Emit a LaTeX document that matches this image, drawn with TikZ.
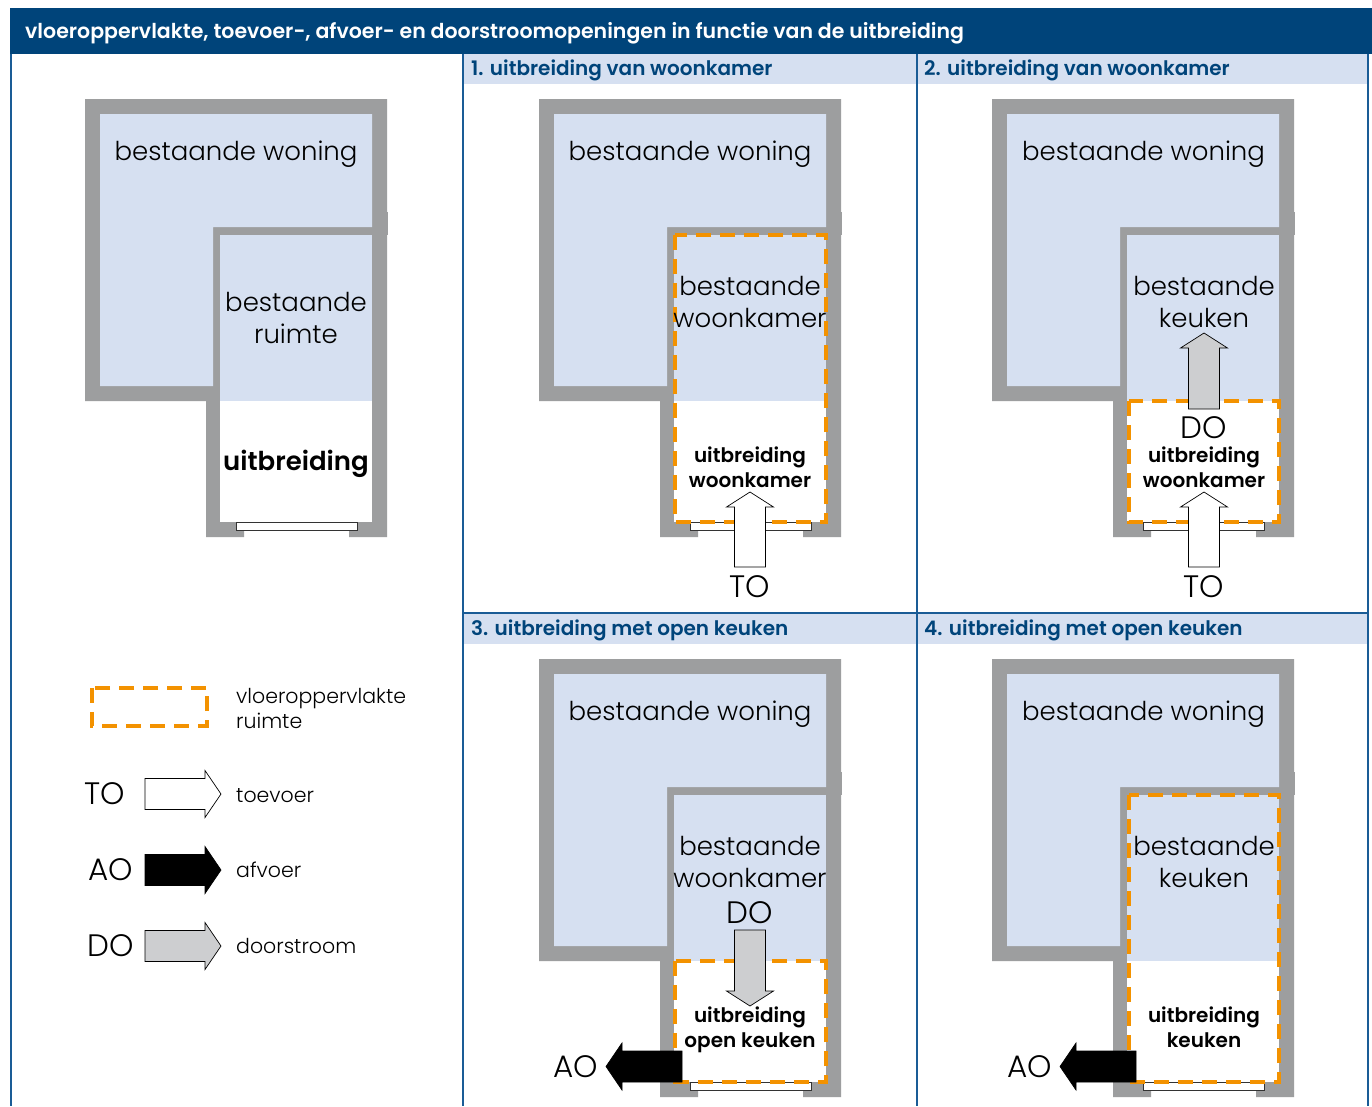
\documentclass[tikz,border=0pt]{standalone}
\usepackage{fontspec}
\setmainfont{Poppins Light}[BoldFont={Poppins SemiBold}]
\definecolor{hdr}{HTML}{00447A}
\definecolor{frameblue}{HTML}{1A5C96}
\definecolor{roomblue}{HTML}{D6E0F1}
\definecolor{wallgrey}{HTML}{9D9E9F}
\definecolor{orng}{HTML}{F39200}
\definecolor{doarrow}{HTML}{CDCED0}
\tikzset{
  wall/.style={fill=wallgrey,draw=none},
  room/.style={fill=roomblue,draw=none},
  floorline/.style={draw=orng,line width=4.5pt,dash pattern=on 15pt off 9pt,line join=miter},
  toarrow/.style={fill=white,draw=black,line width=0.7pt},
  aoarrow/.style={fill=black,draw=black,line width=0.7pt},
  doflow/.style={fill=doarrow,draw=black,line width=0.7pt},
  big/.style={inner sep=0pt,anchor=base,font=\fontsize{26}{26}\selectfont},
  code/.style={inner sep=0pt,anchor=base,font=\fontsize{31}{31}\selectfont},
  small/.style={inner sep=0pt,anchor=base,font=\bfseries\fontsize{20}{20}\selectfont},
  legend/.style={inner sep=0pt,anchor=base west,font=\fontsize{20.5}{20.5}\selectfont},
  subhead/.style={inner sep=0pt,anchor=base west,text=hdr,font=\bfseries\fontsize{20}{20}\selectfont}
}
% plan: x offset, y offset
\newcommand{\plan}[2]{%
  \begin{scope}[shift={(#1,#2)}]
    \fill[wall] (85,99)--(387,99)--(387,537)--(349,537)--(349,530)--(244,530)--(244,537)--(206,537)--(206,401)--(85,401)--cycle;
    \fill[wall] (372,212) rectangle (388,235);
    \fill[room] (100,114)--(372,114)--(372,227)--(213,227)--(213,386)--(100,386)--cycle;
    \fill[room] (220,235) rectangle (372,401);
    \fill[white] (220,401) rectangle (372,522);
    \filldraw[fill=white,draw=black!80,line width=0.6pt] (236,522) rectangle (357,530);
  \end{scope}}
% arrows: centre x/tip y based
\newcommand{\arrowup}[4]{% style, x, tip y, tail y
  \draw[#1] (#2,#3)--(#2+23.5,#3+15)--(#2+15.5,#3+15)--(#2+15.5,#4)--(#2-15.5,#4)--(#2-15.5,#3+15)--(#2-23.5,#3+15)--cycle;}
\newcommand{\arrowdown}[4]{%
  \draw[#1] (#2,#3)--(#2+23.5,#3-15)--(#2+15.5,#3-15)--(#2+15.5,#4)--(#2-15.5,#4)--(#2-15.5,#3-15)--(#2-23.5,#3-15)--cycle;}
\newcommand{\arrowright}[4]{% style, y, tip x, tail x
  \draw[#1] (#3,#2)--(#3-16,#2-23.5)--(#3-16,#2-15.5)--(#4,#2-15.5)--(#4,#2+15.5)--(#3-16,#2+15.5)--(#3-16,#2+23.5)--cycle;}
\newcommand{\arrowleft}[4]{%
  \draw[#1] (#3,#2)--(#3+16,#2-23.5)--(#3+16,#2-15.5)--(#4,#2-15.5)--(#4,#2+15.5)--(#3+16,#2+15.5)--(#3+16,#2+23.5)--cycle;}
\begin{document}
\begin{tikzpicture}[x=1pt,y=-1pt]
\useasboundingbox (0,0) rectangle (1372,1106);
\fill[white] (0,0) rectangle (1372,1106);
% sub-headers
\fill[roomblue] (463,54) rectangle (917,84);
\fill[roomblue] (917,54) rectangle (1368,84);
\fill[roomblue] (463,613) rectangle (917,644);
\fill[roomblue] (917,613) rectangle (1368,644);
% frame
\draw[frameblue,line width=2pt] (10.5,54)--(10.5,1106);
\draw[frameblue,line width=2pt] (463,54)--(463,1106);
\draw[frameblue,line width=2pt] (917,54)--(917,1106);
\draw[frameblue,line width=2pt] (1368,54)--(1368,1106);
\draw[frameblue,line width=2pt] (463,613)--(1368,613);
\fill[hdr] (9.5,7.5) rectangle (1372,54);
% plans
\plan{0}{0}\plan{454}{0}\plan{907}{0}\plan{454}{560}\plan{907}{560}
% floor areas
\draw[floorline] (675,235) rectangle (826,522);
\draw[floorline] (1129,401) rectangle (1279,522);
\draw[floorline] (675,961) rectangle (826,1082);
\draw[floorline] (1129,795) rectangle (1279,1082);
\draw[floorline] (92,688) rectangle (207,726);
% arrows
\arrowup{toarrow}{750}{492}{567}
\arrowup{toarrow}{1204}{492}{567}
\arrowup{doflow}{1204}{333}{409}
\arrowdown{doflow}{750}{1006}{930}
\arrowleft{aoarrow}{1066.5}{606}{682}
\arrowleft{aoarrow}{1066.5}{1060}{1136}
\arrowright{toarrow}{794}{221}{145}
\arrowright{aoarrow}{870}{221}{145}
\arrowright{doflow}{946}{221}{145}
% texts
\node[inner sep=0pt,anchor=base west,text=white,font=\bfseries\fontsize{20.5}{20.5}\selectfont] (title) at (25,38) {vloeroppervlakte, toevoer-, afvoer- en doorstroomopeningen in functie van de uitbreiding};
\node[subhead] (h1) at (471,75) {1. uitbreiding van woonkamer};
\node[subhead] (h2) at (924,75) {2. uitbreiding van woonkamer};
\node[subhead] (h3) at (471,635) {3. uitbreiding met open keuken};
\node[subhead] (h4) at (924,635) {4. uitbreiding met open keuken};
\node[big] (w0) at (236,160) {bestaande woning};
\node[big] (w1) at (690,160) {bestaande woning};
\node[big] (w2) at (1143.5,160) {bestaande woning};
\node[big] (w3) at (690,720) {bestaande woning};
\node[big] (w4) at (1143.5,720) {bestaande woning};
\node[big] (r0a) at (296,311) {bestaande};
\node[big] (r0b) at (296,343) {ruimte};
\node[inner sep=0pt,anchor=base,font=\bfseries\fontsize{26}{26}\selectfont] (u0) at (296,470) {uitbreiding};
\node[big] (r1a) at (750,295) {bestaande};
\node[big] (r1b) at (750,327) {woonkamer};
\node[small] (u1a) at (750,462) {uitbreiding};
\node[small] (u1b) at (750,487) {woonkamer};
\node[code] (to1) at (750,597) {TO};
\node[big] (r2a) at (1204,295) {bestaande};
\node[big] (r2b) at (1204,327) {keuken};
\node[code] (do2) at (1204,438) {DO};
\node[small] (u2a) at (1204,462) {uitbreiding};
\node[small] (u2b) at (1204,487) {woonkamer};
\node[code] (to2) at (1204,597) {TO};
\node[big] (r3a) at (750,855) {bestaande};
\node[big] (r3b) at (750,887) {woonkamer};
\node[code] (do3) at (750,923) {DO};
\node[small] (u3a) at (750,1022) {uitbreiding};
\node[small] (u3b) at (750,1047) {open keuken};
\node[code] (ao3) at (576,1077) {AO};
\node[big] (r4a) at (1204,855) {bestaande};
\node[big] (r4b) at (1204,887) {keuken};
\node[small] (u4a) at (1204,1022) {uitbreiding};
\node[small] (u4b) at (1204,1047) {keuken};
\node[code] (ao4) at (1030,1077) {AO};
\node[legend] (l1) at (236,703) {vloeroppervlakte};
\node[legend] (l2) at (236,728) {ruimte};
\node[legend] (l3) at (236,802) {toevoer};
\node[legend] (l4) at (236,877) {afvoer};
\node[legend] (l5) at (236,953) {doorstroom};
\node[code] (lto) at (105,804) {TO};
\node[code] (lao) at (110.5,880) {AO};
\node[code] (ldo) at (110.5,956) {DO};
\end{tikzpicture}
\end{document}
